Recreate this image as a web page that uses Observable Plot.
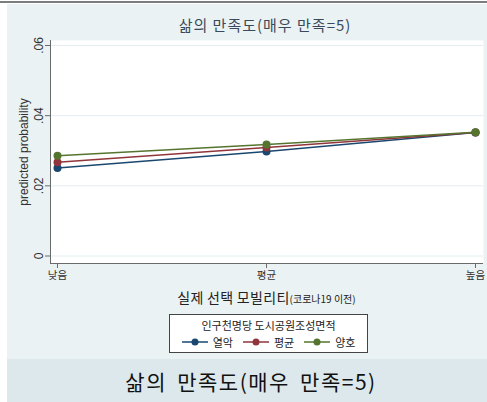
<!DOCTYPE html>
<html>
<head>
<meta charset="utf-8">
<script src="https://cdn.jsdelivr.net/npm/d3@7"></script>
<script src="https://cdn.jsdelivr.net/npm/@observablehq/plot@0.6"></script>
<style>
  body { margin: 0; width: 487px; height: 402px; overflow: hidden; background: #fff;
         font-family: "Liberation Sans", "Noto Sans CJK KR", sans-serif; position: relative; }
  #topline { position: absolute; left: 0; top: 1px; width: 487px; height: 2px; background: #7c7c7c; }
  #graph { position: absolute; left: 7px; top: 4px; width: 480px; height: 355px; background: #eaf2f3; }
  #title { position: absolute; left: 0; top: 0; width: 516px; height: 31px; text-align: center;
           line-height: 42px; font-size: 15px; letter-spacing: 1px; color: #3a4a5a;
           font-family: "Noto Sans CJK KR", sans-serif; }
  #chart { position: absolute; left: 0; top: 31px; }
  #xtitle { position: absolute; left: 43px; width: 433px; top: 283px; text-align: center;
            font-size: 14px; color: #222; font-family: "Noto Sans CJK KR", sans-serif; letter-spacing: 0.3px; }
  #xtitle span { font-size: 10px; letter-spacing: 0; }
  #legend { position: absolute; left: 162px; top: 310px; width: 197px; height: 37px;
            background: #fff; border: 1px solid #444; font-family: "Noto Sans CJK KR", sans-serif; }
  #legtitle { text-align: center; font-size: 11px; color: #222; margin-top: 3px; line-height: 14px; }
  #legitems { display: flex; justify-content: center; gap: 10px; margin-top: 2px; font-size: 11px; color: #222; }
  .item { display: flex; align-items: center; gap: 5px; }
  #caption { position: absolute; left: 7px; top: 359px; width: 472px; padding-left: 8px; height: 43px; background: #dce8ec;
             text-align: center; font-size: 21px; line-height: 44px; color: #111; letter-spacing: 1.5px; word-spacing: 4px;
             font-family: "Noto Sans CJK KR", sans-serif; }
</style>
</head>
<body>
<div id="topline"></div>
<div id="graph">
  <div id="title">삶의 만족도(매우 만족=5)</div>
  <div id="chart"></div>
  <div id="xtitle">실제 선택 모빌리티<span>(코로나19 이전)</span></div>
  <div id="legend">
    <div id="legtitle">인구천명당 도시공원조성면적</div>
    <div id="legitems"></div>
  </div>
</div>
<div id="caption">삶의 만족도(매우 만족=5)</div>
<script>
// Predicted probability of "very satisfied" (=5) by mobility level and park area group
const cats = ["낮음", "평균", "높음"];
const groups = ["열악", "평균", "양호"];
const colors = ["#1a476f", "#90353b", "#55752f"];
const probPoor = [0.0251, 0.0298, 0.0352];
const probAvg  = [0.0267, 0.0309, 0.0352];
const probGood = [0.0286, 0.0318, 0.0353];
const yTicks = [0, 0.02, 0.04, 0.06];

const series = [probPoor, probAvg, probGood];
const rows = series.flatMap((vals, gi) =>
  vals.map((p, i) => ({cat: cats[i], grp: groups[gi], p}))
);

const fmt = d => d === 0 ? "0" : d3.format(".2f")(d).replace(/^0/, "");

const chart = Plot.plot({
  width: 480,
  height: 250,
  marginTop: 5,
  marginBottom: 22,
  marginLeft: 43,
  marginRight: 4,
  style: {background: "transparent", fontFamily: "Liberation Sans, Noto Sans CJK KR, sans-serif", color: "#333"},
  x: {type: "point", domain: cats, padding: 0, insetLeft: 7, insetRight: 8},
  y: {domain: [0, 0.06], insetTop: 5, insetBottom: 7.5},
  color: {domain: groups, range: colors},
  marks: [
    Plot.frame({fill: "white", stroke: null}),
    Plot.gridY(yTicks, {stroke: "#e3edf0", strokeOpacity: 1}),
    Plot.ruleY([0], {dy: 7.5, stroke: "#6a6a6a"}),
    Plot.ruleX([cats[0]], {dx: -7, stroke: "#6a6a6a"}),
    Plot.axisY(yTicks, {
      tickFormat: fmt, tickRotate: -90, tickSize: 5, tickPadding: 3, fontSize: 12,
      stroke: "#6a6a6a", label: "predicted probability", labelAnchor: "center", labelOffset: 31,
      labelArrow: "none"
    }),
    Plot.axisX({tickSize: 5, tickPadding: 3, fontSize: 10.5, stroke: "#6a6a6a", label: null,
      fontFamily: "Noto Sans CJK KR"}),
    Plot.line(rows, {x: "cat", y: "p", stroke: "grp", z: "grp", strokeWidth: 1.5}),
    Plot.dot(rows, {x: "cat", y: "p", fill: "grp", r: 4})
  ]
});
document.getElementById("chart").appendChild(chart);

// Legend: line-with-marker swatch for each group
const items = d3.select("#legitems");
groups.forEach((g, i) => {
  const it = items.append("div").attr("class", "item");
  const sw = it.append("svg").attr("width", 26).attr("height", 10);
  sw.append("line").attr("x1", 0).attr("x2", 26).attr("y1", 5).attr("y2", 5)
    .attr("stroke", colors[i]).attr("stroke-width", 1.5);
  sw.append("circle").attr("cx", 13).attr("cy", 5).attr("r", 3.5).attr("fill", colors[i]);
  it.append("span").text(g);
});
</script>
</body>
</html>
